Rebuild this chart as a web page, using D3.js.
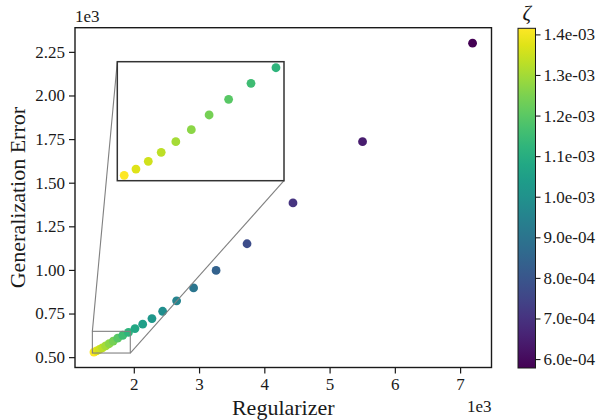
<!DOCTYPE html>
<html>
<head>
<meta charset="utf-8">
<script src="https://cdn.jsdelivr.net/npm/d3@7"></script>
<style>
  body { margin: 0; background: #fff; }
  svg { display: block; }
  text { font-family: "Liberation Serif", "Times New Roman", serif; fill: #1a1a1a; }
</style>
</head>
<body>
<svg id="chart" width="601" height="420"></svg>
<script>
// Regularizer vs generalization error, coloured by zeta
const regularizer = [1389, 1430, 1473, 1518, 1569, 1623, 1685, 1753, 1831, 1918,
                     2018, 2136, 2278, 2442, 2656, 2916, 3261, 3735, 4439, 5505, 7191];
const genError = [529.2, 535.8, 543.9, 553.3, 564.4, 576.9, 592.3, 608.7, 625.4, 641.7,
                  664, 689, 721, 763, 823, 897, 997, 1150, 1384, 1735, 2300];
const zeta = [1.415e-3, 1.373e-3, 1.356e-3, 1.331e-3, 1.302e-3, 1.269e-3, 1.239e-3, 1.197e-3,
              1.155e-3, 1.122e-3, 1.080e-3, 1.047e-3, 1.022e-3, 0.988e-3, 0.955e-3, 0.904e-3,
              0.837e-3, 0.771e-3, 0.704e-3, 0.645e-3, 0.578e-3];
const xTicks = [2000, 3000, 4000, 5000, 6000, 7000];
const yTicks = [500, 750, 1000, 1250, 1500, 1750, 2000, 2250];
const zetaTicks = [6e-4, 7e-4, 8e-4, 9e-4, 1.0e-3, 1.1e-3, 1.2e-3, 1.3e-3, 1.4e-3];
const insetXRange = [1365, 1946];
const insetYRange = [523.6, 648];

const points = regularizer.map((r, i) => ({ x: r, y: genError[i], z: zeta[i] }));

const svg = d3.select("#chart");
const plot = { left: 75, right: 491.5, top: 27.7, bottom: 367.5 };
const cbar = { left: 518, width: 17.5, top: 28.3, bottom: 368 };
const inset = { left: 117.3, right: 284, top: 61.7, bottom: 180.7 };

// 5% padding around the data extent
function padded(vals) {
  const [a, b] = d3.extent(vals);
  const p = (b - a) * 0.05;
  return [a - p, b + p];
}

const x = d3.scaleLinear().domain(padded(regularizer)).range([plot.left, plot.right]);
const y = d3.scaleLinear().domain(padded(genError)).range([plot.bottom, plot.top]);
const color = d3.scaleSequential(d3.interpolateViridis).domain(d3.extent(zeta));

const ink = "#1a1a1a";
const tickSize = 6;
const fs = "17px";

// axes
const xAxis = svg.append("g")
  .attr("transform", `translate(0,${plot.bottom})`)
  .call(d3.axisBottom(x).tickValues(xTicks).tickSize(tickSize).tickPadding(4)
        .tickFormat(d => d3.format("d")(d / 1000)));
const yAxis = svg.append("g")
  .attr("transform", `translate(${plot.left},0)`)
  .call(d3.axisLeft(y).tickValues(yTicks).tickSize(tickSize).tickPadding(4)
        .tickFormat(d => d3.format(".2f")(d / 1000)));
[xAxis, yAxis].forEach(g => {
  g.select(".domain").remove();
  g.selectAll(".tick line").attr("stroke", ink).attr("stroke-width", 1.2);
  g.selectAll(".tick text").attr("font-size", fs).attr("font-family", "Liberation Serif").attr("fill", ink);
});

// scatter
svg.append("g").selectAll("circle").data(points).join("circle")
  .attr("cx", d => x(d.x)).attr("cy", d => y(d.y)).attr("r", 4.4)
  .attr("fill", d => color(d.z));

// zoom box and connectors
const zb = {
  x0: x(insetXRange[0]), x1: x(insetXRange[1]),
  y0: y(insetYRange[1]), y1: y(insetYRange[0])
};
svg.append("rect").attr("x", zb.x0).attr("y", zb.y0)
  .attr("width", zb.x1 - zb.x0).attr("height", zb.y1 - zb.y0)
  .attr("fill", "none").attr("stroke", "#808080").attr("stroke-width", 1.1);
svg.append("line").attr("x1", zb.x0).attr("y1", zb.y0).attr("x2", inset.left).attr("y2", inset.top)
  .attr("stroke", "#808080").attr("stroke-width", 1.1);
svg.append("line").attr("x1", zb.x1).attr("y1", zb.y1).attr("x2", inset.right).attr("y2", inset.bottom)
  .attr("stroke", "#808080").attr("stroke-width", 1.1);

// inset axes
const xi = d3.scaleLinear().domain(insetXRange).range([inset.left, inset.right]);
const yi = d3.scaleLinear().domain(insetYRange).range([inset.bottom, inset.top]);
svg.append("rect").attr("x", inset.left).attr("y", inset.top)
  .attr("width", inset.right - inset.left).attr("height", inset.bottom - inset.top)
  .attr("fill", "#fff");
svg.append("defs").append("clipPath").attr("id", "insetClip")
  .append("rect").attr("x", inset.left).attr("y", inset.top)
  .attr("width", inset.right - inset.left).attr("height", inset.bottom - inset.top);
svg.append("g").attr("clip-path", "url(#insetClip)")
  .selectAll("circle").data(points).join("circle")
  .attr("cx", d => xi(d.x)).attr("cy", d => yi(d.y)).attr("r", 4.4)
  .attr("fill", d => color(d.z));
svg.append("rect").attr("x", inset.left).attr("y", inset.top)
  .attr("width", inset.right - inset.left).attr("height", inset.bottom - inset.top)
  .attr("fill", "none").attr("stroke", "#333").attr("stroke-width", 1.5);

// main frame
svg.append("rect").attr("x", plot.left).attr("y", plot.top)
  .attr("width", plot.right - plot.left).attr("height", plot.bottom - plot.top)
  .attr("fill", "none").attr("stroke", ink).attr("stroke-width", 1.4);

// axis labels and offset text
svg.append("text").attr("x", (plot.left + plot.right) / 2).attr("y", 415)
  .attr("text-anchor", "middle").attr("font-size", "22px").text("Regularizer");
svg.append("text").attr("transform", `translate(25,${(plot.top + plot.bottom) / 2}) rotate(-90)`)
  .attr("text-anchor", "middle").attr("font-size", "22px").text("Generalization Error");
svg.append("text").attr("x", plot.left).attr("y", 22).attr("font-size", fs).text("1e3");
svg.append("text").attr("x", plot.right).attr("y", 412).attr("text-anchor", "end")
  .attr("font-size", fs).text("1e3");

// colorbar
const grad = svg.select("defs").append("linearGradient").attr("id", "viridisGrad")
  .attr("x1", 0).attr("y1", 1).attr("x2", 0).attr("y2", 0);
d3.range(0, 1.0001, 0.05).forEach(t => {
  grad.append("stop").attr("offset", t).attr("stop-color", d3.interpolateViridis(t));
});
svg.append("rect").attr("x", cbar.left).attr("y", cbar.top)
  .attr("width", cbar.width).attr("height", cbar.bottom - cbar.top)
  .attr("fill", "url(#viridisGrad)").attr("stroke", ink).attr("stroke-width", 1);
const cz = d3.scaleLinear().domain(d3.extent(zeta)).range([cbar.bottom, cbar.top]);
const cAxis = svg.append("g").attr("transform", `translate(${cbar.left + cbar.width},0)`)
  .call(d3.axisRight(cz).tickValues(zetaTicks).tickSize(5).tickPadding(3)
        .tickFormat(d => d3.format(".1e")(d).replace(/e([+-])(\d)$/, "e$10$2")));
cAxis.select(".domain").remove();
cAxis.selectAll(".tick line").attr("stroke", ink).attr("stroke-width", 1.1);
cAxis.selectAll(".tick text").attr("font-size", fs).attr("font-family", "Liberation Serif").attr("fill", ink);
svg.append("text").attr("x", cbar.left + cbar.width / 2).attr("y", 20)
  .attr("text-anchor", "middle").attr("font-size", "21px").attr("font-style", "italic").text("ζ");
</script>
</body>
</html>
